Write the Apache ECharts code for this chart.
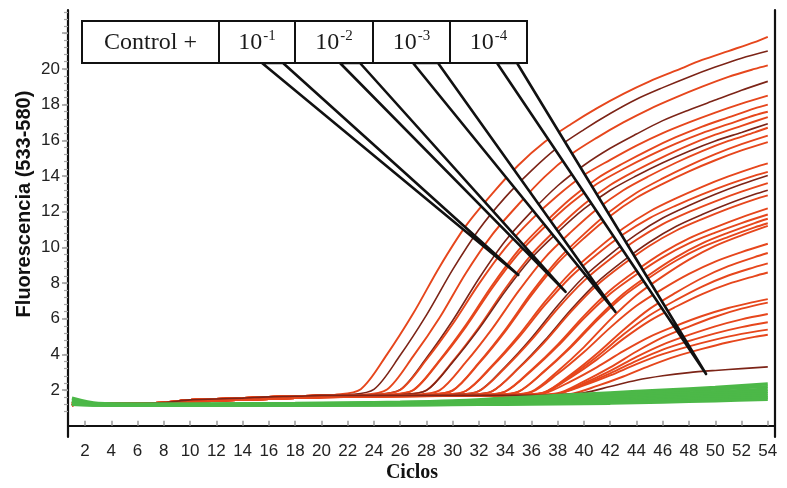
<!DOCTYPE html>
<html><head><meta charset="utf-8">
<script src="https://cdn.jsdelivr.net/npm/echarts@6/dist/echarts.min.js"></script>
<style>html,body{margin:0;padding:0;background:#fff}#main{width:787px;height:488px}</style>
</head><body><div id="main"></div>
<script>
// ---- tick labels ----
const xTickLabels = [2,4,6,8,10,12,14,16,18,20,22,24,26,28,30,32,34,36,38,40,42,44,46,48,50,52,54];
const yTickLabels = [2,4,6,8,10,12,14,16,18,20];
const yMajorTicks = [2,4,6,8,10,12,14,16,18,20,22];

// ---- early baseline (cycles 1-20) ----
const baseCycles = [1,2,3,4,6,8,10,12,14,16,18,20];
const baseA = [1.3,1.25,1.2,1.25,1.25,1.3,1.45,1.5,1.55,1.62,1.65,1.7];
const baseB = [1.15,1.2,1.2,1.2,1.22,1.25,1.38,1.45,1.5,1.55,1.6,1.65];
const baseC = [1.2,1.18,1.2,1.22,1.2,1.28,1.32,1.4,1.45,1.5,1.55,1.6];

// ---- positive amplification curves [cycle, fluorescence] ----
const r01 = [[21,1.73],[23,2.05],[25,4.0],[27,6.3],[29,8.9],[31,11.2],[33,13.0],[35,14.6],[37,15.9],[39,16.9],[41,17.8],[43,18.6],[45,19.3],[47,19.9],[49,20.5],[51,21.0],[53,21.5],[54,21.8]];
const r02 = [[22,1.73],[24,2.04],[26,3.95],[28,6.2],[30,8.75],[32,11.0],[34,12.8],[36,14.3],[38,15.6],[40,16.6],[42,17.5],[44,18.3],[46,18.95],[48,19.55],[50,20.1],[52,20.6],[54,21.0]];
const r03 = [[21,1.7],[23,1.73],[25,2.03],[27,3.9],[29,6.05],[31,8.55],[33,10.7],[35,12.4],[37,13.95],[39,15.2],[41,16.15],[43,17.0],[45,17.75],[47,18.4],[49,19.0],[51,19.55],[53,20.0],[54,20.2]];
const r04 = [[22,1.7],[24,1.74],[26,2.02],[28,3.8],[30,5.9],[32,8.25],[34,10.35],[36,12.0],[38,13.45],[40,14.6],[42,15.55],[44,16.35],[46,17.1],[48,17.7],[50,18.25],[52,18.8],[54,19.3]];
const r05 = [[22,1.7],[24,1.74],[26,2.0],[28,3.7],[30,5.7],[32,7.95],[34,9.95],[36,11.55],[38,12.9],[40,14.05],[42,14.9],[44,15.7],[46,16.4],[48,17.0],[50,17.55],[52,18.05],[54,18.5]];
const r06 = [[23,1.7],[25,1.74],[27,2.0],[29,3.67],[31,5.64],[33,7.86],[35,9.83],[37,11.37],[39,12.74],[41,13.86],[43,14.71],[45,15.48],[47,16.17],[49,16.77],[51,17.28],[53,17.79],[54,18.0]];
const r07 = [[23,1.7],[25,1.73],[27,1.99],[29,3.62],[31,5.54],[33,7.71],[35,9.63],[37,11.14],[39,12.47],[41,13.56],[43,14.39],[45,15.14],[47,15.81],[49,16.4],[51,16.9],[53,17.4],[54,17.6]];
const r08 = [[24,1.7],[26,1.74],[28,1.99],[30,3.61],[32,5.52],[34,7.68],[36,9.59],[38,11.08],[40,12.41],[42,13.49],[44,14.32],[46,15.06],[48,15.73],[50,16.31],[52,16.81],[54,17.3]];
const r09 = [[24,1.7],[26,1.74],[28,1.98],[30,3.56],[32,5.43],[34,7.53],[36,9.4],[38,10.85],[40,12.15],[42,13.2],[44,14.01],[46,14.74],[48,15.39],[50,15.96],[52,16.44],[54,16.93]];
const r10 = [[25,1.7],[27,1.74],[29,1.98],[31,3.56],[33,5.43],[35,7.53],[37,9.4],[39,10.85],[41,12.15],[43,13.2],[45,14.01],[47,14.74],[49,15.39],[51,15.96],[53,16.44],[54,16.7]];
const r11 = [[26,1.7],[28,1.74],[30,1.98],[32,3.54],[34,5.38],[36,7.46],[38,9.3],[40,10.74],[42,12.02],[44,13.06],[46,13.86],[48,14.58],[50,15.22],[52,15.78],[54,16.26]];
const r12 = [[26,1.7],[28,1.74],[30,1.97],[32,3.49],[34,5.29],[36,7.32],[38,9.11],[40,10.51],[42,11.76],[44,12.78],[46,13.56],[48,14.26],[50,14.88],[52,15.43],[54,15.9]];
const r13 = [[27,1.7],[29,1.74],[31,1.95],[33,3.37],[35,5.04],[37,6.93],[39,8.6],[41,9.9],[43,11.07],[45,12.01],[47,12.74],[49,13.39],[51,13.97],[53,14.48],[54,14.7]];
const r14 = [[27,1.7],[29,1.74],[31,1.95],[33,3.31],[35,4.92],[37,6.74],[39,8.35],[41,9.61],[43,10.73],[45,11.64],[47,12.34],[49,12.97],[51,13.53],[53,14.02],[54,14.23]];
const r15 = [[28,1.7],[30,1.74],[32,1.95],[34,3.31],[36,4.92],[38,6.74],[40,8.35],[42,9.61],[44,10.73],[46,11.64],[48,12.34],[50,12.97],[52,13.53],[54,14.02]];
const r16 = [[28,1.7],[30,1.73],[32,1.94],[34,3.25],[36,4.81],[38,6.57],[40,8.12],[42,9.34],[44,10.42],[46,11.3],[48,11.98],[50,12.58],[52,13.12],[54,13.6]];
const r17 = [[29,1.7],[31,1.73],[33,1.93],[35,3.23],[37,4.77],[39,6.5],[41,8.04],[43,9.24],[45,10.3],[47,11.17],[49,11.84],[51,12.44],[53,12.97],[54,13.2]];
const r18 = [[29,1.7],[31,1.73],[33,1.93],[35,3.2],[37,4.69],[39,6.38],[41,7.88],[43,9.05],[45,10.09],[47,10.93],[49,11.58],[51,12.17],[53,12.69],[54,12.91]];
const r19 = [[30,1.7],[32,1.73],[34,1.92],[36,3.13],[38,4.55],[40,6.16],[42,7.59],[44,8.71],[46,9.7],[48,10.5],[50,11.12],[52,11.68],[54,12.18]];
const r20 = [[30,1.7],[32,1.73],[34,1.91],[36,3.08],[38,4.46],[40,6.02],[42,7.4],[44,8.48],[46,9.44],[48,10.22],[50,10.82],[52,11.36],[54,11.84]];
const r21 = [[31,1.7],[33,1.73],[35,1.91],[37,3.08],[39,4.46],[41,6.02],[43,7.4],[45,8.48],[47,9.44],[49,10.22],[51,10.82],[53,11.36],[54,11.6]];
const r22 = [[31,1.7],[33,1.73],[35,1.9],[37,3.05],[39,4.39],[41,5.91],[43,7.26],[45,8.31],[47,9.25],[49,10.01],[51,10.59],[53,11.12],[54,11.35]];
const r23 = [[32,1.7],[34,1.73],[36,1.91],[38,3.06],[40,4.41],[42,5.95],[44,7.31],[46,8.37],[48,9.31],[50,10.08],[52,10.67],[54,11.2]];
const r24 = [[32,1.7],[34,1.73],[36,1.88],[38,2.91],[40,4.13],[42,5.5],[44,6.72],[46,7.67],[48,8.51],[50,9.2],[52,9.73],[54,10.2]];
const r25 = [[33,1.7],[35,1.73],[37,1.88],[39,2.87],[41,4.05],[43,5.37],[45,6.55],[47,7.46],[49,8.28],[51,8.94],[53,9.45],[54,9.68]];
const r26 = [[33,1.7],[35,1.72],[37,1.87],[39,2.79],[41,3.88],[43,5.11],[45,6.19],[47,7.04],[49,7.8],[51,8.42],[53,8.89],[54,9.1]];
const r27 = [[33,1.7],[35,1.72],[37,1.85],[39,2.71],[41,3.72],[43,4.87],[45,5.88],[47,6.67],[49,7.38],[51,7.95],[53,8.39],[54,8.59]];
const r28 = [[33,1.7],[35,1.72],[37,1.82],[39,2.49],[41,3.29],[43,4.18],[45,4.98],[47,5.6],[49,6.15],[51,6.6],[53,6.94],[54,7.1]];
const r29 = [[34,1.7],[36,1.72],[38,1.82],[40,2.49],[42,3.27],[44,4.16],[46,4.95],[48,5.56],[50,6.11],[52,6.56],[54,6.9]];
const r30 = [[34,1.7],[36,1.72],[38,1.8],[40,2.39],[42,3.08],[44,3.86],[46,4.55],[48,5.09],[50,5.57],[52,5.96],[54,6.26]];
const r31 = [[34,1.7],[36,1.71],[38,1.79],[40,2.32],[42,2.94],[44,3.64],[46,4.27],[48,4.75],[50,5.18],[52,5.53],[54,5.8]];
const r32 = [[34,1.7],[36,1.71],[38,1.79],[40,2.26],[42,2.82],[44,3.45],[46,4.01],[48,4.45],[50,4.83],[52,5.15],[54,5.39]];
const r33 = [[35,1.7],[37,1.71],[39,1.78],[41,2.23],[43,2.76],[45,3.36],[47,3.89],[49,4.31],[51,4.68],[53,4.98],[54,5.1]];
const r34 = [[36,1.7],[38,1.75],[40,1.85],[42,2.2],[44,2.55],[46,2.8],[48,2.98],[50,3.1],[52,3.2],[54,3.3]];
const positiveCurves = [r01,r02,r03,r04,r05,r06,r07,r08,r09,r10,r11,r12,r13,r14,r15,r16,r17,r18,r19,r20,r21,r22,r23,r24,r25,r26,r27,r28,r29,r30,r31,r32,r33,r34];
// 'd' = dark trace, 'r' = red trace
const curveTone = ['r','d','r','d','r','r','r','r','d','r','r','r','r','r','d','r','d','r','r','r','r','r','r','r','r','r','r','r','r','r','r','r','r','d'];

// ---- negative curves (green band) ----
const greenCycles = [1,3,6,10,14,18,22,26,30,34,38,42,46,50,54];
const g1 = [1.55,1.25,1.22,1.22,1.24,1.25,1.28,1.32,1.4,1.55,1.7,1.85,2.0,2.15,2.35];
const g2 = [1.45,1.22,1.2,1.2,1.22,1.23,1.26,1.3,1.36,1.48,1.6,1.75,1.9,2.05,2.2];
const g3 = [1.4,1.2,1.2,1.2,1.2,1.22,1.24,1.28,1.32,1.42,1.52,1.65,1.78,1.92,2.05];
const g4 = [1.35,1.2,1.18,1.18,1.2,1.2,1.22,1.25,1.3,1.36,1.45,1.55,1.68,1.8,1.92];
const g5 = [1.3,1.18,1.18,1.18,1.18,1.2,1.2,1.22,1.27,1.32,1.38,1.48,1.58,1.7,1.8];
const g6 = [1.25,1.18,1.16,1.16,1.17,1.18,1.18,1.2,1.24,1.28,1.32,1.4,1.5,1.6,1.68];
const g7 = [1.2,1.16,1.15,1.15,1.15,1.16,1.16,1.18,1.2,1.24,1.28,1.33,1.42,1.5,1.58];
const g8 = [1.2,1.15,1.14,1.14,1.14,1.14,1.15,1.16,1.18,1.2,1.22,1.26,1.33,1.4,1.48];
const negativeCurves = [g1,g2,g3,g4,g5,g6,g7,g8];

// ---- legend labels and pointer tips (data coords) ----
const legendLabels = ['Control +', '10|-1', '10|-2', '10|-3', '10|-4'];
const pointerTips = [[35.0,8.45],[38.6,7.5],[42.4,6.38],[49.3,2.9]];

const chart = echarts.init(document.getElementById('main'));
const bases = [baseA, baseB, baseC];
const series = [];
positiveCurves.forEach((c, i) => {
  const b = bases[i % 3];
  const data = baseCycles.map((x, j) => [x, b[j]]).concat(c);
  const dark = curveTone[i] === 'd';
  series.push({
    type: 'line', data: data, symbol: 'none', smooth: 0.3, silent: true,
    lineStyle: { width: dark ? 1.6 : 1.9, color: dark ? '#7c2417' : '#e6461c' },
    z: 2
  });
});
negativeCurves.forEach((g) => {
  series.push({
    type: 'line', data: greenCycles.map((x, j) => [x, g[j]]), symbol: 'none', smooth: 0.3, silent: true,
    lineStyle: { width: 3.2, color: '#4cb848' }, z: 3
  });
});

const yMinor = [];
for (let v = 0.8; v < 23.2; v += 0.4) yMinor.push(Math.round(v * 10) / 10);

const labelFont = "'Liberation Sans',Arial,sans-serif";
const YMIN = -0.63, YMAX = 23.3;
chart.setOption({
  animation: false,
  backgroundColor: '#ffffff',
  grid: { left: 68, right: 12, top: 10, bottom: 51 },
  xAxis: {
    type: 'value', min: 0.7, max: 54.55,
    axisLine: { lineStyle: { color: '#111', width: 2.2 } },
    axisTick: { inside: true, length: 5, customValues: xTickLabels, lineStyle: { color: '#9a9a9a', width: 1.5 } },
    axisLabel: { customValues: xTickLabels, fontSize: 17, fontFamily: labelFont, color: '#222', margin: 6 },
    splitLine: { show: false }
  },
  yAxis: [
    {
      type: 'value', min: YMIN, max: YMAX, position: 'left',
      axisLine: { show: true, lineStyle: { color: '#111', width: 2.2 } },
      axisTick: { show: true, length: 6, customValues: yMajorTicks, lineStyle: { color: '#9a9a9a', width: 1.5 } },
      axisLabel: { customValues: yTickLabels, fontSize: 17, fontFamily: labelFont, color: '#222', margin: 8 },
      splitLine: { show: false }
    },
    {
      type: 'value', min: YMIN, max: YMAX, position: 'left',
      axisLine: { show: false },
      axisTick: { show: true, length: 4, customValues: yMinor, lineStyle: { color: '#a5a5a5', width: 1.2 } },
      axisLabel: { show: false }, splitLine: { show: false }
    },
    {
      type: 'value', min: YMIN, max: YMAX, position: 'right',
      axisLine: { show: true, lineStyle: { color: '#111', width: 2.2 } },
      axisTick: { show: false }, axisLabel: { show: false }, splitLine: { show: false }
    }
  ],
  series: series
});

// ---- annotation: legend boxes with pointer wedges ----
const boxEdges = [82, 219, 295, 373, 450, 527];
const boxTop = 21, boxBottom = 63;
const wedgeBases = [[262,283],[340,360],[413,438],[497,517]];
const serif = "'Liberation Serif','DejaVu Serif',serif";
const elements = [];
pointerTips.forEach((tip, i) => {
  const p = chart.convertToPixel({ xAxisIndex: 0, yAxisIndex: 0 }, tip);
  elements.push({
    type: 'polygon', z: 100,
    shape: { points: [[wedgeBases[i][0], boxBottom], p, [wedgeBases[i][1], boxBottom]] },
    style: { fill: '#ffffff', stroke: '#111', lineWidth: 2.6, lineJoin: 'round' }
  });
});
legendLabels.forEach((lab, i) => {
  const x0 = boxEdges[i], x1 = boxEdges[i + 1];
  elements.push({
    type: 'rect', z: 101,
    shape: { x: x0, y: boxTop, width: x1 - x0, height: boxBottom - boxTop },
    style: { fill: '#ffffff', stroke: '#111', lineWidth: 2 }
  });
  const parts = lab.split('|');
  const txt = parts.length > 1 ? '{b|' + parts[0] + '}{s|' + parts[1] + '}' : '{b|' + parts[0] + '}';
  elements.push({
    type: 'text', z: 102,
    x: (x0 + x1) / 2, y: (boxTop + boxBottom) / 2 + 1,
    style: {
      text: txt, align: 'center', verticalAlign: 'middle',
      rich: {
        b: { fontSize: 24, fontFamily: serif, fill: '#1a1a1a', lineHeight: 28 },
        s: { fontSize: 15, fontFamily: serif, fill: '#1a1a1a', verticalAlign: 'top', lineHeight: 28, padding: [0, 0, 10, 1] }
      }
    }
  });
});
elements.push({
  type: 'text', z: 102, x: 24, y: 204, rotation: Math.PI / 2,
  style: { text: 'Fluorescencia (533-580)', align: 'center', verticalAlign: 'middle',
    fontSize: 20, fontWeight: 'bold', fontFamily: labelFont, fill: '#111' }
});
elements.push({
  type: 'text', z: 102, x: 412, y: 473,
  style: { text: 'Ciclos', align: 'center', verticalAlign: 'middle',
    fontSize: 20, fontWeight: 'bold', fontFamily: serif, fill: '#111' }
});
chart.setOption({ graphic: { elements: elements } });
</script>
</body></html>
